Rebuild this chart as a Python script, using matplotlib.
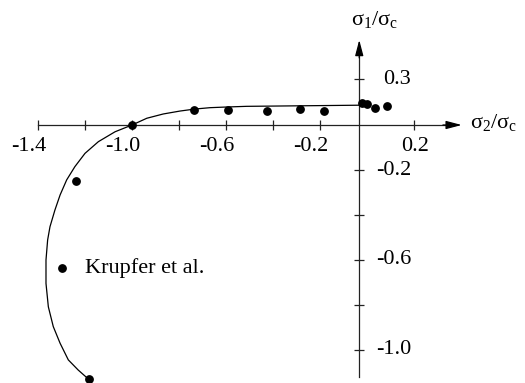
import matplotlib
matplotlib.use('Agg')
import matplotlib.pyplot as plt

plt.rcParams['font.family'] = ['Liberation Serif', 'DejaVu Serif']
plt.rcParams['mathtext.fontset'] = 'custom'
plt.rcParams['mathtext.rm'] = 'Liberation Serif'
plt.rcParams['mathtext.it'] = 'Liberation Serif:italic'
plt.rcParams['axes.unicode_minus'] = False

# failure envelope (sigma2/sigma_c, sigma1/sigma_c)
curve_x = [-0.033, -0.413, -0.512, -0.597, -0.668, -0.732, -0.796, -0.867, -0.937,
           -1.0, -1.072, -1.143, -1.200, -1.243, -1.278, -1.306, -1.328, -1.349,
           -1.359, -1.366, -1.366, -1.356, -1.335, -1.306, -1.271, -1.229, -1.189]
curve_y = [0.088, 0.084, 0.083, 0.080, 0.077, 0.071, 0.062, 0.049, 0.030,
           0.0, -0.030, -0.074, -0.126, -0.185, -0.244, -0.311, -0.378, -0.452,
           -0.511, -0.600, -0.704, -0.808, -0.896, -0.970, -1.044, -1.089, -1.126]

# test data, Krupfer et al.
krupfer_x = [-0.020, -0.001, 0.034, 0.086, -0.183, -0.285, -0.426, -0.593, -0.735,
             -1.0, -1.240, -1.299, -1.183]
krupfer_y = [0.099, 0.092, 0.077, 0.084, 0.064, 0.071, 0.064, 0.067, 0.067,
             0.0, -0.248, -0.637, -1.130]

xtick_vals = [-1.4, -1.2, -1.0, -0.8, -0.6, -0.4, -0.2, 0.2]
xtick_labels = ['-1.4', '', '-1.0', '', '-0.6', '', '-0.2', '0.2']
ytick_vals = [-1.0, -0.8, -0.6, -0.4, -0.2, 0.204]
ytick_labels = ['-1.0', '', '-0.6', '', '-0.2', '0.3']

yaxis_x = -0.033
x_tip, y_tip, y_bottom = 0.403, 0.378, -1.119

fig = plt.figure(figsize=(5.25, 3.83), dpi=100)
ax = fig.add_axes([0, 0, 1, 1])
ax.set_xlim(-1.5617, 0.6723)
ax.set_ylim(-1.1467, 0.5556)

for side in ['top', 'right']:
    ax.spines[side].set_visible(False)
ax.spines['bottom'].set_position(('data', 0))
ax.spines['left'].set_position(('data', yaxis_x))
ax.spines['bottom'].set_bounds(-1.4, x_tip - 0.03)
ax.spines['left'].set_bounds(y_bottom, y_tip - 0.03)
for side in ['bottom', 'left']:
    ax.spines[side].set_linewidth(0.9)
    ax.spines[side].set_color('#222222')

ax.set_xticks(xtick_vals)
ax.set_yticks(ytick_vals)
ax.tick_params(direction='inout', length=7.5, width=0.9, color='#222222',
               labelbottom=False, labelleft=False)

# arrow heads on the axes
arrow = dict(arrowstyle='-|>,head_length=0.95,head_width=0.25', color='black',
             lw=0.9, shrinkA=0, shrinkB=0, mutation_scale=10)
ax.annotate('', xy=(x_tip, 0), xytext=(x_tip - 0.08, 0), arrowprops=arrow)
ax.annotate('', xy=(yaxis_x, y_tip), xytext=(yaxis_x, y_tip - 0.08), arrowprops=arrow)

for v, s in zip(xtick_vals, xtick_labels):
    if s:
        dx = -9 if s.startswith('-') else 1
        ax.annotate(s, xy=(v, 0), xytext=(dx, -12), textcoords='offset pixels',
                    ha='center', va='top', fontsize=16)
for v, s in zip(ytick_vals, ytick_labels):
    if s:
        ax.annotate(s, xy=(yaxis_x, v), xytext=(52, 0), textcoords='offset pixels',
                    ha='right', va='center', fontsize=16)

ax.annotate('σ$_2$/σ$_\\mathrm{c}$', xy=(x_tip, 0), xytext=(8, -3),
            textcoords='offset pixels', ha='left', va='baseline', fontsize=16)
ax.annotate('σ$_1$/σ$_\\mathrm{c}$', xy=(yaxis_x, y_tip), xytext=(-8, 15),
            textcoords='offset pixels', ha='left', va='baseline', fontsize=16)

ax.plot(curve_x, curve_y, color='black', lw=0.9)
ax.plot(krupfer_x, krupfer_y, 'o', color='black', ms=5.3, zorder=3)
ax.text(-1.200, -0.636, 'Krupfer et al.', ha='left', va='center', fontsize=16)

fig.savefig('out.png', dpi=100)
